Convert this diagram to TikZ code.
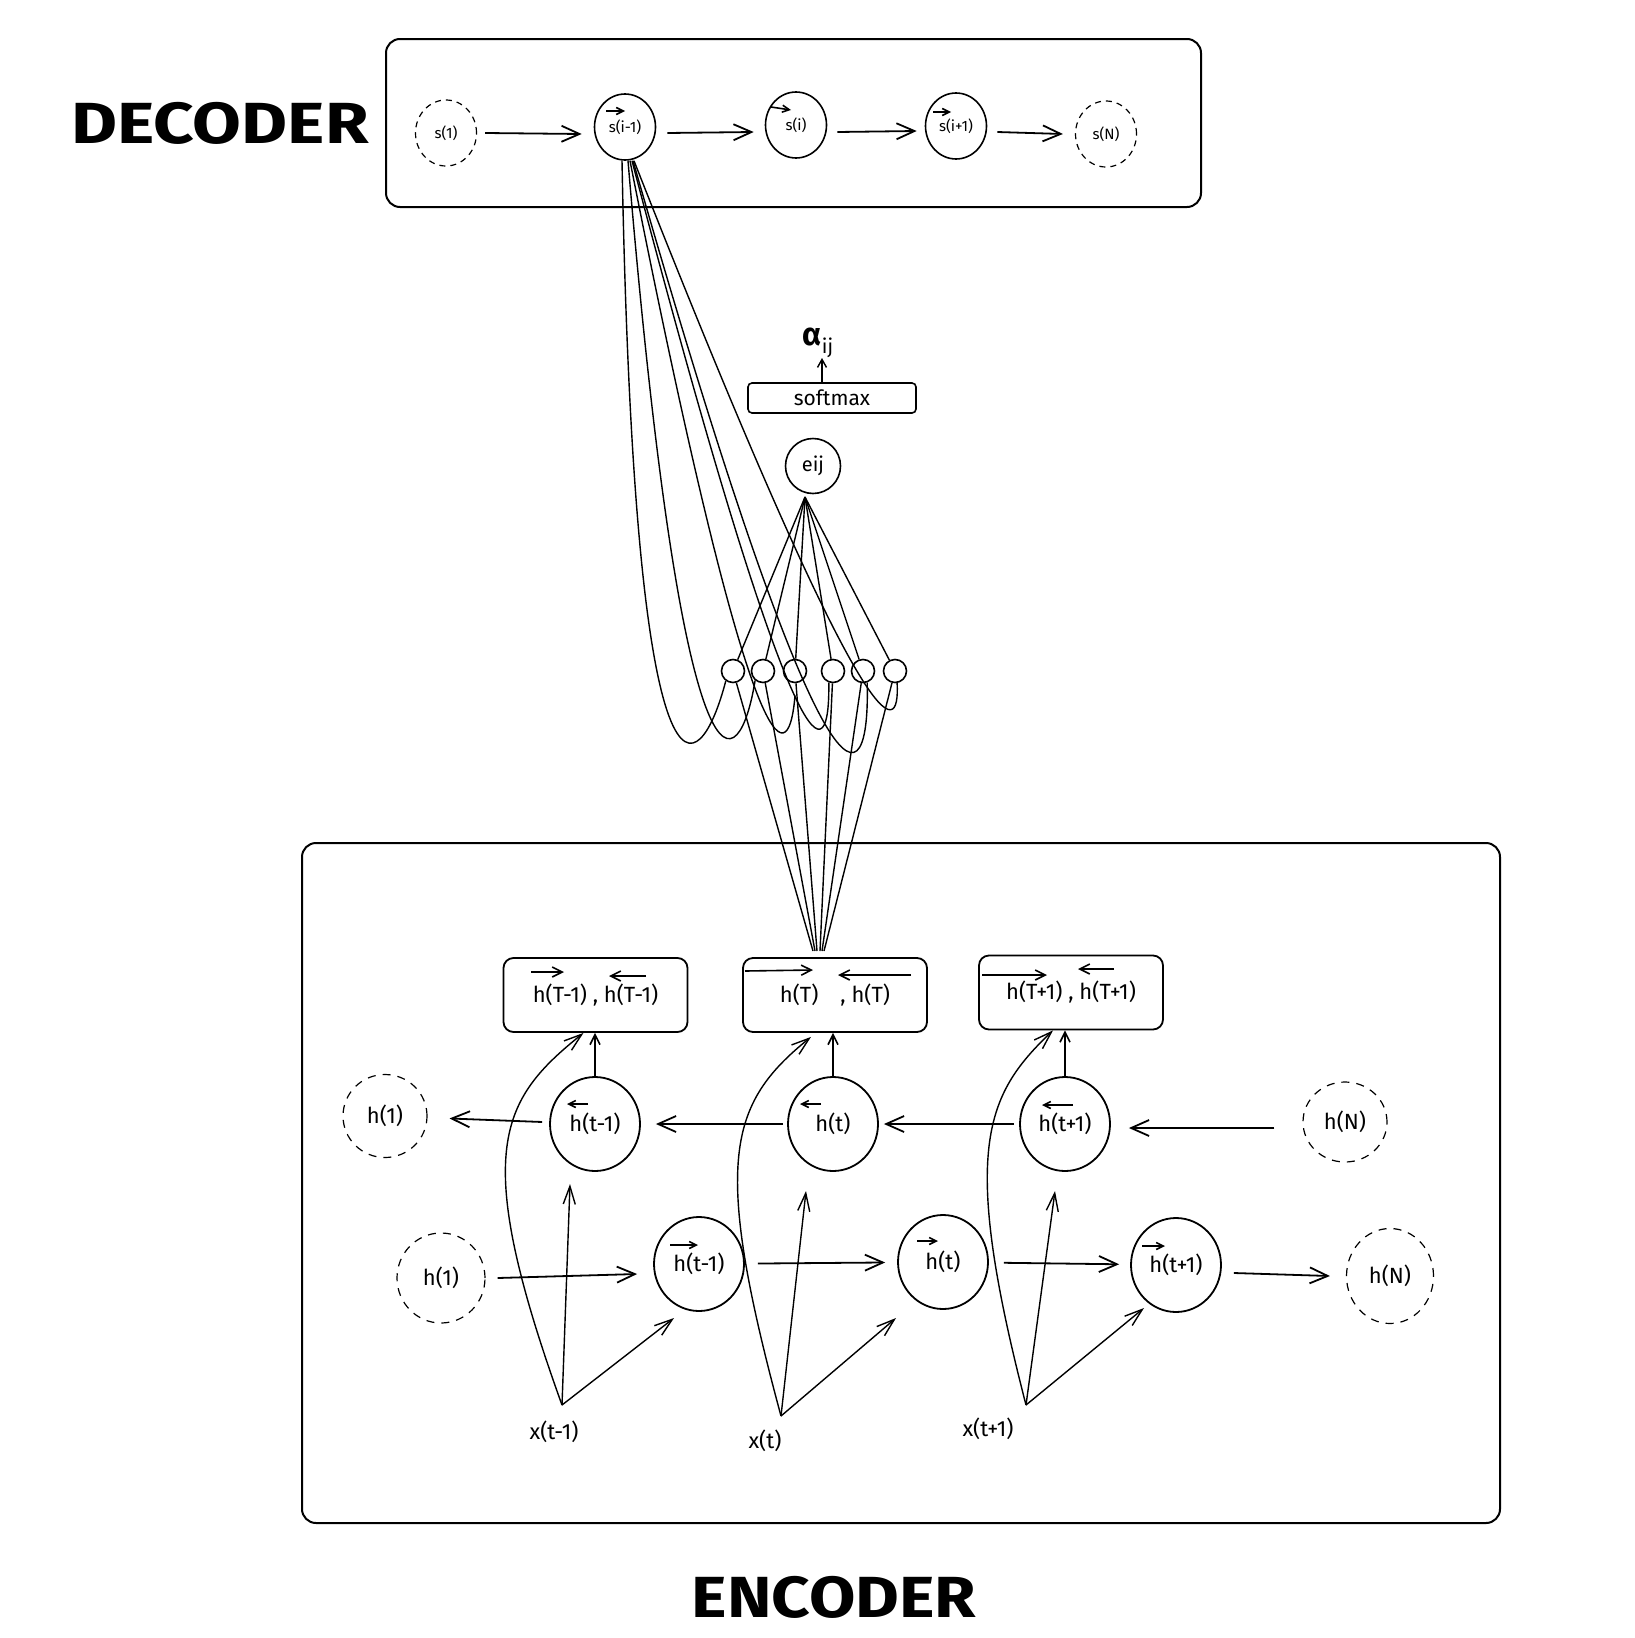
\documentclass[tikz,border=0pt]{standalone}
\usepackage{fontspec}
\setmainfont{Fira Sans}
\usetikzlibrary{arrows.meta,shapes.geometric}
\begin{document}
\begin{tikzpicture}[x=0.5pt,y=-0.5pt,
  every node/.style={inner sep=0pt, font=\fontsize{11}{13}\selectfont},
  line width=0.9pt,
  outerbox/.style={draw, rounded corners=7pt, line width=1pt},
  scirc/.style={draw, ellipse, minimum width=30.5pt, minimum height=33pt, line width=0.8pt, font=\fontsize{7.5}{9}\selectfont},
  dscirc/.style={scirc, dash pattern=on 3pt off 2.5pt, line width=0.6pt},
  hcirc/.style={draw, ellipse, minimum width=45pt, minimum height=47pt, line width=0.9pt},
  dhcirc/.style={hcirc, dash pattern=on 4pt off 3.5pt, line width=0.6pt},
  hbox/.style={draw, rectangle, rounded corners=5pt, minimum width=92pt, minimum height=37pt, line width=0.9pt},
  att/.style={draw, circle, minimum size=11.5pt, line width=0.8pt},
  arr/.style={-{Straight Barb[length=9pt,width=8pt]}, line width=0.9pt},
  sarr/.style={-{Straight Barb[length=3.5pt,width=3.5pt]}, line width=0.8pt},
  barr/.style={-{Straight Barb[length=5pt,width=5pt]}, line width=0.8pt},
  iarr/.style={-{Straight Barb[length=9pt,width=6pt]}, line width=0.7pt},
  fan/.style={line width=0.7pt},
  title/.style={font=\fontsize{29}{30}\selectfont\bfseries}
]
\fill[white] (0,0) rectangle (1634,1638);
\useasboundingbox (0,0) rectangle (1634,1638);

% titles
\node[title] (dec) at (220,123) {\scalebox{1.22}[1]{DECODER}};
\node[title] (enc) at (834,1597) {\scalebox{1.16}[1]{ENCODER}};

% ---------------- decoder ----------------
\draw[outerbox] (386,39) rectangle (1201,207);
\node[dscirc] (s1) at (446,133) {s(1)};
\node[scirc] (si1) at (625,127) {s(i-1)};
\node[scirc] (si) at (796,125) {s(i)};
\node[scirc] (sip) at (956,126) {s(i+1)};
\node[dscirc] (sN) at (1106,134) {s(N)};
\draw[arr] ([xshift=4pt]s1.east) -- ([xshift=-6pt,yshift=-3.5pt]si1.west);
\draw[arr] ([xshift=5.5pt,yshift=-3pt]si1.east) -- ([xshift=-5.5pt,yshift=-3.5pt]si.west);
\draw[arr] ([xshift=5pt,yshift=-3.5pt]si.east) -- ([xshift=-4pt,yshift=-2.5pt]sip.west);
\draw[arr] ([xshift=5pt,yshift=-3pt]sip.east) -- ([xshift=-6pt]sN.west);
\draw[sarr] ([shift={(-19,-16)}]si1.center) -- ++(19,0);
\draw[sarr] ([shift={(-25,-18)}]si.center) -- ++(20,3);
\draw[sarr] ([shift={(-23,-14)}]sip.center) -- ++(18,0);

% ---------------- attention ----------------
\node[att] (c1) at (733,671) {};
\node[att] (c2) at (763,671) {};
\node[att] (c3) at (795,671) {};
\node[att] (c4) at (833,671) {};
\node[att] (c5) at (863,671) {};
\node[att] (c6) at (895,671) {};
\node[draw, circle, minimum size=27.5pt, line width=0.8pt, font=\fontsize{10}{12}\selectfont] (eij) at (813,466) {eij};
\coordinate (ejb) at (805,497);
\foreach \i in {1,...,6} \draw[fan] (ejb) -- (c\i);
\node[draw, rounded corners=2pt, minimum width=84pt, minimum height=15pt, line width=0.8pt, font=\fontsize{10.5}{12}\selectfont] (sm) at (832,398) {softmax};
\node (alpha) at (818,343) {{\fontsize{16}{16}\selectfont\bfseries α}\raisebox{-4pt}{\fontsize{10}{10}\selectfont ij}};
\coordinate (atip) at (822,358);
\draw[-{Straight Barb[length=4pt,width=4.5pt]}, line width=0.7pt] (sm.north -| atip) -- (atip);

\draw[fan] ([xshift=-1.5pt]si1.south) .. controls (635,850) and (700,780) .. (c1.234);
\draw[fan] ([xshift=1.5pt]si1.south) .. controls (685,840) and (740,775) .. (c2.230);
\draw[fan] ([xshift=2.5pt]si1.south) .. controls (760,820) and (790,760) .. ([yshift=-6pt]c3.south);
\draw[fan] ([xshift=3.5pt]si1.south) .. controls (800,800) and (830,770) .. (c4.250);
\draw[fan] ([xshift=4pt]si1.south) .. controls (830,850) and (870,800) .. (c5.290);
\draw[fan] ([xshift=4.5pt]si1.south) .. controls (870,760) and (900,740) .. (c6.280);

\coordinate (fb) at (818,951);
\draw[fan] (c1) -- ([xshift=-2.5pt]fb);
\draw[fan] (c2) -- ([xshift=-1.5pt]fb);
\draw[fan] (c3) -- ([xshift=-0.5pt]fb);
\draw[fan] (c4) -- ([xshift=1pt]fb);
\draw[fan] (c5) -- ([xshift=2pt]fb);
\draw[fan] (c6) -- ([xshift=3pt]fb);

% ---------------- encoder ----------------
\draw[outerbox] (302,843) rectangle (1500,1523);
\node[hbox] (b1) at (595.5,995) {h(T-1) , h(T-1)};
\node[hbox] (b2) at (835,995) {h(T)\hspace{1em}, h(T)};
\node[hbox] (b3) at (1071,992.5) {h(T+1) , h(T+1)};
\draw[barr] ([shift={(-64.5,-23)}]b1.center) -- ++(33,0);
\draw[barr] ([shift={(50.5,-19)}]b1.center) -- ++(-37,0);
\draw[barr] ([shift={(-90,-24)}]b2.center) -- ++(68,-1);
\draw[barr] ([shift={(76,-20)}]b2.center) -- ++(-73,0);
\draw[barr] ([shift={(-89,-17.5)}]b3.center) -- ++(65,0);
\draw[barr] ([shift={(43,-23.5)}]b3.center) -- ++(-36,0);

\node[dhcirc, minimum width=42pt, minimum height=41.5pt] (hb1) at (385,1116) {h(1)};
\node[hcirc] (hbt1) at (595,1124) {h(t-1)};
\node[hcirc] (hbt) at (833,1124) {h(t)};
\node[hcirc] (hbtp) at (1065,1124) {h(t+1)};
\node[dhcirc, minimum width=42pt, minimum height=40pt] (hbN) at (1345,1122) {h(N)};

\node[dhcirc, minimum width=44pt, minimum height=45pt] (hf1) at (441,1278) {h(1)};
\node[hcirc] (hft1) at (699,1264) {h(t-1)};
\node[hcirc] (hft) at (943,1262) {h(t)};
\node[hcirc] (hftp) at (1176,1265) {h(t+1)};
\node[dhcirc, minimum width=43.5pt, minimum height=47.5pt] (hfN) at (1390,1276) {h(N)};

\draw[sarr] ([shift={(-7,-20)}]hbt1.center) -- ++(-21,0);
\draw[sarr] ([shift={(-12,-20)}]hbt.center) -- ++(-21,0);
\draw[sarr] ([shift={(8,-19)}]hbtp.center) -- ++(-31,0);
\draw[sarr] ([shift={(-29,-19)}]hft1.center) -- ++(28,0);
\draw[sarr] ([shift={(-26,-21)}]hft.center) -- ++(21,0);
\draw[sarr] ([shift={(-34,-19)}]hftp.center) -- ++(23,0);

\draw[arr, shorten <=3.5pt, shorten >=11pt] (hbt1) -- (hb1);
\draw[arr, shorten <=2pt, shorten >=7.5pt] (hbt) -- (hbt1);
\draw[arr, shorten <=2.5pt, shorten >=2.5pt] (hbtp) -- (hbt);
\draw[arr] ([xshift=-14pt,yshift=-3pt]hbN.west) -- ([xshift=9pt,yshift=-2pt]hbtp.east);
\draw[arr] ([xshift=6pt]hf1.east) -- ([xshift=-8pt,yshift=-5pt]hft1.west);
\draw[arr, shorten <=6.5pt, shorten >=6pt] (hft1) -- (hft);
\draw[arr, shorten <=7.5pt, shorten >=5.5pt] (hft) -- (hftp);
\draw[arr] ([xshift=6pt,yshift=-4pt]hftp.east) -- ([xshift=-8pt]hfN.west);

\draw[barr] (hbt1.north) -- (hbt1.north |- b1.south);
\draw[barr] (hbt.north) -- (hbt.north |- b2.south);
\draw[barr] (hbtp.north) -- (hbtp.north |- b3.south);

% inputs
\node (x1) at (554,1432) {x(t-1)};
\node (x2) at (765,1441) {x(t)};
\node (x3) at (988,1429) {x(t+1)};
\coordinate (ox1) at (562,1405);
\coordinate (ox2) at (781,1416);
\coordinate (ox3) at (1026,1405);
\coordinate (u1) at (570,1184);
\coordinate (u2) at (806,1191);
\coordinate (u3) at (1055,1191);
\coordinate (d1) at (674,1318);
\coordinate (d2) at (896,1318);
\coordinate (d3) at (1144,1308);
\draw[iarr] (ox1) -- (u1);
\draw[iarr] (ox1) -- (d1);
\draw[iarr] (ox2) -- (u2);
\draw[iarr] (ox2) -- (d2);
\draw[iarr] (ox3) -- (u3);
\draw[iarr] (ox3) -- (d3);
\draw[iarr] (ox1) .. controls (470,1150) and (500,1100) .. ([xshift=-6pt]b1.south);
\draw[iarr] (ox2) .. controls (712,1161) and (728,1104) .. ([xshift=-12pt,yshift=-2pt]b2.south);
\draw[iarr] (ox3) .. controls (960,1150) and (985,1095) .. ([xshift=-9pt]b3.south);
\end{tikzpicture}
\end{document}
